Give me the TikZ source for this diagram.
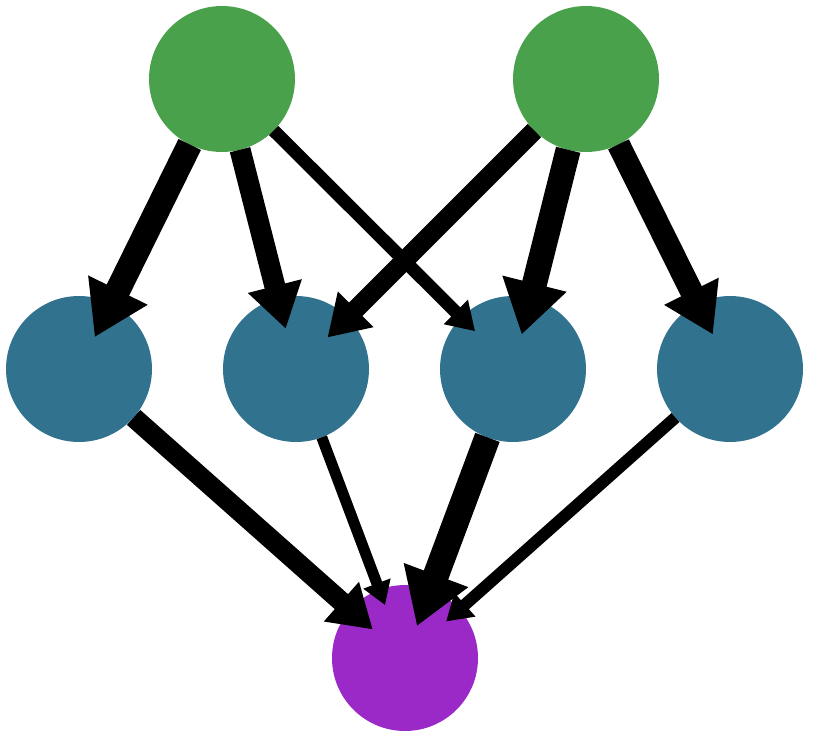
\documentclass[tikz,border=0pt]{standalone}
\usepackage{tikz}
\usetikzlibrary{arrows.meta}
\definecolor{ingreen}{RGB}{73,161,76}
\definecolor{hidteal}{RGB}{49,115,143}
\definecolor{outpurple}{RGB}{155,41,200}

\begin{document}
\begin{tikzpicture}[
    x=0.02cm, y=-0.02cm,
    neuron/.style={circle, minimum size=2.92cm, inner sep=0pt, outer sep=0pt, draw=none},
    inneuron/.style={neuron, fill=ingreen},
    hidneuron/.style={neuron, fill=hidteal},
    outneuron/.style={neuron, fill=outpurple},
    link/.style={line width=0.02cm*#1, -{Triangle[length=0pt 2.1, width=0pt 2.5]}, shorten >=-0.03cm*#1}
]
\useasboundingbox (0,0) rectangle (814,750);

\node (in1) [inneuron] at (222,79) {};
\node (in2) [inneuron] at (586,79) {};
\node (h1) [hidneuron] at (79,369) {};
\node (h2) [hidneuron] at (296,369) {};
\node (h3) [hidneuron] at (513,369) {};
\node (h4) [hidneuron] at (730,369) {};
\node (out) [outneuron] at (405,658) {};

\draw [link=25] (in1) -- (h1);
\draw [link=21] (in1) -- (h2);
\draw [link=13] (in1) -- (h3);
\draw [link=19] (in2) -- (h2);
\draw [link=25] (in2) -- (h3);
\draw [link=23] (in2) -- (h4);
\draw [link=20] (h1) -- (out);
\draw [link=11] (h2) -- (out);
\draw [link=26] (h3) -- (out);
\draw [link=12] (h4) -- (out);
\end{tikzpicture}
\end{document}
